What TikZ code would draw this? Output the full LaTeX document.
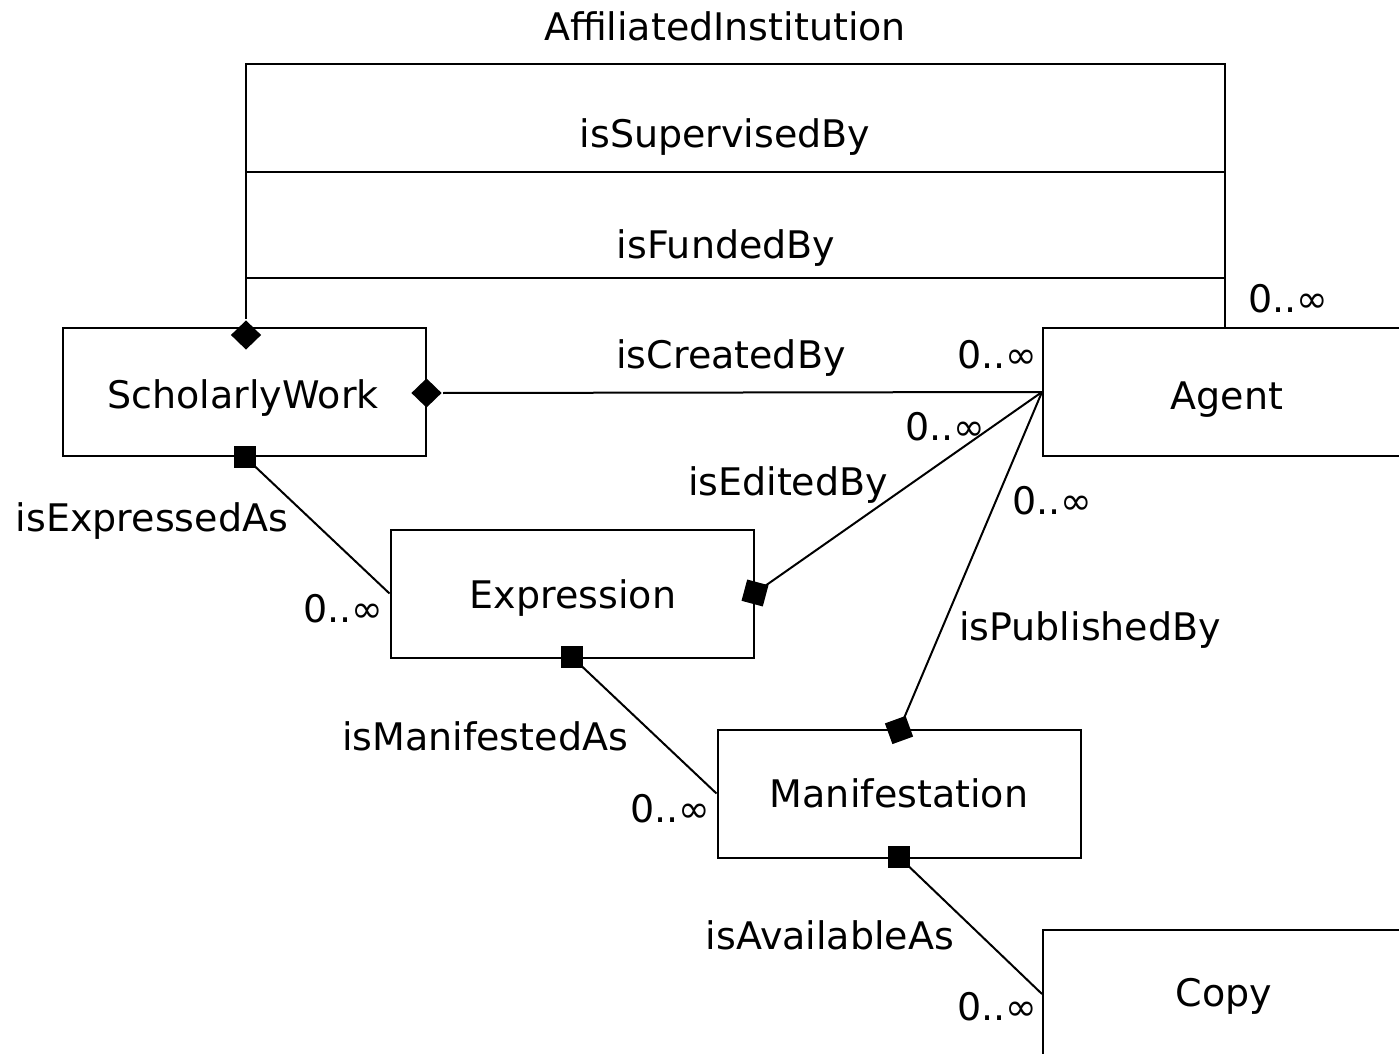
\documentclass[tikz,border=0pt]{standalone}
\usepackage{fontspec}
\setmainfont{DejaVu Sans}
\usetikzlibrary{shapes.geometric}
\begin{document}
\begin{tikzpicture}[x=0.5pt,y=-0.5pt,
  line width=1pt,
  box/.style={draw,rectangle,inner sep=0pt,minimum width=181.5pt,minimum height=64pt,font=\fontsize{19}{23}\selectfont},
  lbl/.style={inner sep=0pt,anchor=base,font=\fontsize{19}{23}\selectfont},
  dia/.style={diamond,fill=black,draw=none,inner sep=0pt,minimum width=15.5pt,minimum height=15pt},
  sq/.style={rectangle,fill=black,draw=none,inner sep=0pt,minimum size=11pt}]
\useasboundingbox (0,0) rectangle (1399,1054);
\clip (0,0) rectangle (1399,1054);
% boxes
\node[box] (sw) at (244.5,392) {};
\node[lbl] (swt) at (243,408) {ScholarlyWork};
\node[box] (ag) at (1224.5,392) {};
\node[lbl] (agt) at (1227,409) {Agent};
\node[box] (ex) at (572,593.5) {};
\node[lbl] (ext) at (573,608) {Expression};
\node[box] (ma) at (899,793.5) {};
\node[lbl] (mat) at (899,807) {Manifestation};
\node[box] (co) at (1224.5,994) {};
\node[lbl] (cot) at (1224,1006) {Copy};
% markers
\node[dia] (dtop) at (246,335) {};
\node[dia] (dcr) at (426.5,393) {};
\node[sq] (s1) at (245,457) {};
\node[sq] (s2) at (572,657) {};
\node[sq] (s3) at (899,857) {};
\node[sq,rotate=-15] (s4) at (755,593) {};
\node[sq,rotate=20] (s5) at (899,730) {};
% connectors
\draw (dtop.north) -- (dtop.north |- 0,64) -| (ag.north);
\draw (dtop.north |- 0,172) -- (ag.north |- 0,172);
\draw (dtop.north |- 0,278) -- (ag.north |- 0,278);
\draw (dcr.east) -- (ag.west);
\draw (s4.center) -- (ag.west);
\draw (s5.center) -- (ag.west);
\draw (s1.center) -- (ex.west);
\draw (s2.center) -- (ma.west);
\draw (s3.center) -- (co.west);
% labels
\node[lbl] (l1) at (725,41) {AffiliatedInstitution};
\node[lbl] (l2) at (725,148) {isSupervisedBy};
\node[lbl] (l3) at (726,258) {isFundedBy};
\node[lbl] (l4) at (731,368) {isCreatedBy};
\node[lbl] (l5) at (788,495) {isEditedBy};
\node[lbl] (l6) at (152,531) {isExpressedAs};
\node[lbl] (l7) at (1090,640) {isPublishedBy};
\node[lbl] (l8) at (485,750) {isManifestedAs};
\node[lbl] (l9) at (830,949) {isAvailableAs};
\node[lbl] (m1) at (1288,312) {0..∞};
\node[lbl] (m2) at (997,368) {0..∞};
\node[lbl] (m3) at (945,440) {0..∞};
\node[lbl] (m4) at (1052,514) {0..∞};
\node[lbl] (m5) at (343,622) {0..∞};
\node[lbl] (m6) at (670,822) {0..∞};
\node[lbl] (m7) at (997,1020) {0..∞};
\end{tikzpicture}
\end{document}
